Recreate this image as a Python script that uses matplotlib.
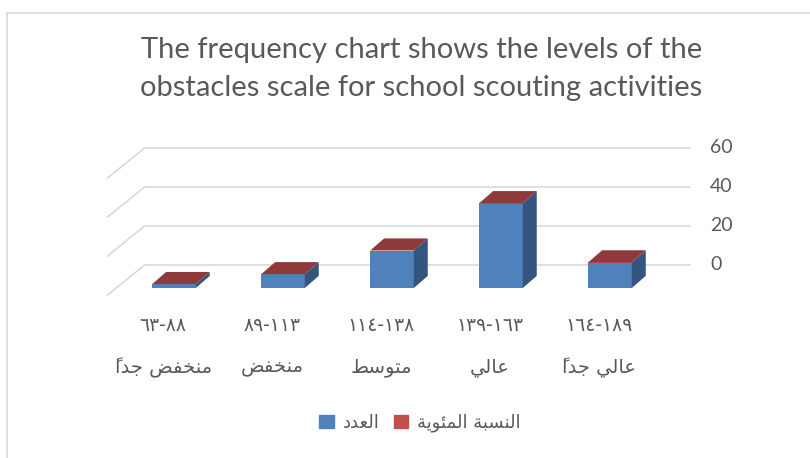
import matplotlib
matplotlib.use("Agg")
import matplotlib.pyplot as plt
from matplotlib.patches import Polygon, Patch

# chart data
levels = ["منخفض جداً", "منخفض", "متوسط", "عالي", "عالي جداً"]
ranges = ["٦٣-٨٨", "٨٩-١١٣", "١١٤-١٣٨", "١٣٩-١٦٣", "١٦٤-١٨٩"]
counts = [2, 7, 19, 43, 13]
percents = [0.024, 0.083, 0.226, 0.512, 0.155]
series_names = ["العدد", "النسبة المئوية"]
y_ticks = [0, 20, 40, 60]
title = "The frequency chart shows the levels of the\nobstacles scale for school scouting activities"

# arabic presentation forms: (isolated, final, initial, medial)
FORMS = {
    'ا': (0xFE8D, 0xFE8E, None, None),
    'ب': (0xFE8F, 0xFE90, 0xFE91, 0xFE92),
    'ة': (0xFE93, 0xFE94, None, None),
    'ت': (0xFE95, 0xFE96, 0xFE97, 0xFE98),
    'ج': (0xFE9D, 0xFE9E, 0xFE9F, 0xFEA0),
    'خ': (0xFEA5, 0xFEA6, 0xFEA7, 0xFEA8),
    'د': (0xFEA9, 0xFEAA, None, None),
    'س': (0xFEB1, 0xFEB2, 0xFEB3, 0xFEB4),
    'ض': (0xFEBD, 0xFEBE, 0xFEBF, 0xFEC0),
    'ط': (0xFEC1, 0xFEC2, 0xFEC3, 0xFEC4),
    'ع': (0xFEC9, 0xFECA, 0xFECB, 0xFECC),
    'ف': (0xFED1, 0xFED2, 0xFED3, 0xFED4),
    'ل': (0xFEDD, 0xFEDE, 0xFEDF, 0xFEE0),
    'م': (0xFEE1, 0xFEE2, 0xFEE3, 0xFEE4),
    'ن': (0xFEE5, 0xFEE6, 0xFEE7, 0xFEE8),
    'و': (0xFEED, 0xFEEE, None, None),
    'ي': (0xFEF1, 0xFEF2, 0xFEF3, 0xFEF4),
    'ئ': (0xFE89, 0xFE8A, 0xFE8B, 0xFE8C),
}
MARKS = {'\u064B'}


def shape(text):
    # group base letters with their marks, then put them in visual order
    clusters = []
    for ch in text:
        if ch in MARKS and clusters:
            clusters[-1][1] += ch
        else:
            clusters.append([ch, ""])
    out = []
    for i, (ch, mk) in enumerate(clusters):
        if ch not in FORMS:
            out.append(mk + ch)
            continue
        prev = clusters[i - 1][0] if i > 0 else None
        nxt = clusters[i + 1][0] if i + 1 < len(clusters) else None
        joins_prev = prev in FORMS and FORMS[prev][2] is not None
        joins_next = FORMS[ch][2] is not None and nxt in FORMS
        iso, fin, ini, med = FORMS[ch]
        if joins_prev and joins_next:
            c = med
        elif joins_prev:
            c = fin
        elif joins_next:
            c = ini
        else:
            c = iso
        out.append(mk + chr(c))
    return "".join(out[::-1])


grey = "#595959"
grid_c = "#d9d9d9"
ar_font = ["DejaVu Sans"]

fig = plt.figure(figsize=(8.1, 4.58), dpi=100)
ax = fig.add_axes([65 / 810, 150.5 / 458, 654 / 810, 165.75 / 458])
ax.set_xlim(-1.0, 5.0)
ax.set_ylim(-10, 75)
ax.axis("off")

wall_off = 11.8      # back wall shift (value units)
wall_x = (-0.27, 4.73)
front_x = -0.61
front_drop = 15.4
dx, dy = 0.128, 6.2
w = 0.4

# back wall gridlines and side diagonals
for v in y_ticks:
    ax.plot(wall_x, [v + wall_off] * 2, color=grid_c, lw=1.2, zorder=1)
    ax.plot([front_x, wall_x[0]], [v + wall_off - front_drop, v + wall_off],
            color=grid_c, lw=1.2, zorder=1)
    ax.text(4.92, v + wall_off, str(v), ha="left", va="center",
            fontsize=14, color=grey, family="Lato")

xs = list(range(len(counts)))
ax.bar(xs, counts, width=w, color="#4f81bd", zorder=3)
ax.bar(xs, percents, bottom=counts, width=w, color="#c0504d", zorder=3)

for x, c, p in zip(xs, counts, percents):
    top = c + p
    r = x + w / 2
    l = x - w / 2
    ax.add_patch(Polygon([(r, 0), (r + dx, dy), (r + dx, top + dy), (r, top)],
                         closed=True, fc="#34557f", ec="none", zorder=3))
    ax.add_patch(Polygon([(l, top), (r, top), (r + dx, top + dy), (l + dx, top + dy)],
                         closed=True, fc="#8e3a3a", ec="none", zorder=4))

# category labels
for x, rg, lv in zip(xs, ranges, levels):
    ax.text(x - 0.1, -19, rg, ha="center", va="center", fontsize=13.5,
            color=grey, family=ar_font, clip_on=False)
    ax.text(x - 0.1, -41, shape(lv), ha="center", va="center", fontsize=14,
            color=grey, family=ar_font, clip_on=False)

lines = title.split("\n")
fig.text(0.52, 1 - 50 / 458, lines[0], ha="center", va="center",
         fontsize=21, color=grey, family="Lato")
fig.text(0.52, 1 - 88 / 458, lines[1], ha="center", va="center",
         fontsize=21, color=grey, family="Lato")

handles = [Patch(color="#4f81bd"), Patch(color="#c0504d")]
leg = fig.legend(handles, [shape(s) for s in series_names], loc="center",
                 bbox_to_anchor=(420 / 810, 1 - 423 / 458), ncol=2, frameon=False,
                 handlelength=0.8, handleheight=0.8, handletextpad=0.5,
                 columnspacing=0.8, prop={"family": ar_font, "size": 13})
for t in leg.get_texts():
    t.set_color(grey)

# chart border (top and left visible)
fig.add_artist(plt.Line2D([7 / 810, 7 / 810], [0, 1 - 13 / 458],
                          color=grid_c, lw=1.2, transform=fig.transFigure))
fig.add_artist(plt.Line2D([7 / 810, 1], [1 - 13 / 458, 1 - 13 / 458],
                          color=grid_c, lw=1.2, transform=fig.transFigure))

fig.savefig("out.png", dpi=100)
